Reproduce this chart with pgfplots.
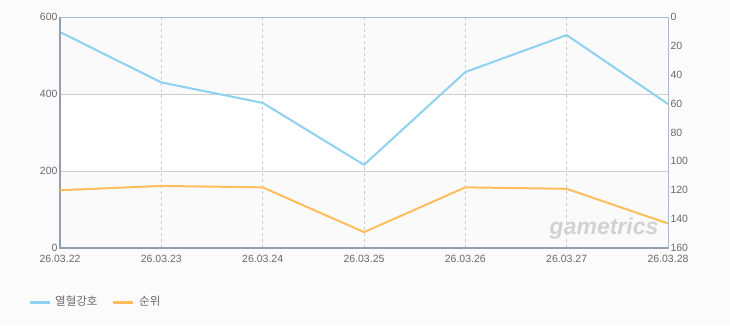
\documentclass[border=0pt]{standalone}
\usepackage{pgfplots}
\pgfplotsset{compat=1.18}
\usepackage{fontspec}
\setmainfont{Liberation Sans}
\newfontfamily\kr{Noto Sans CJK KR}
\definecolor{bg}{RGB}{251,251,251}
\definecolor{band}{RGB}{250,250,250}
\definecolor{frame}{RGB}{170,186,206}
\definecolor{gridc}{RGB}{205,205,205}
\definecolor{tickc}{RGB}{105,105,105}
\definecolor{sblue}{RGB}{142,209,240}
\definecolor{sorange}{RGB}{255,190,92}
\begin{document}
\begin{tikzpicture}
\fill[bg] (0pt,0pt) rectangle (730pt,325pt);
\begin{axis}[
  at={(60pt,77pt)}, anchor=south west,
  scale only axis, width=608pt, height=231pt,
  xmin=0, xmax=6, ymin=0, ymax=600,
  hide axis,
]
\fill[white] (rel axis cs:0,0) rectangle (rel axis cs:1,1);
\addplot[draw=none, fill=band, forget plot] coordinates {(0,400) (6,400) (6,600) (0,600)} -- cycle;
\addplot[draw=none, fill=band, forget plot] coordinates {(0,0) (6,0) (6,200) (0,200)} -- cycle;
\end{axis}
\begin{axis}[
  at={(60pt,77pt)}, anchor=south west,
  scale only axis, width=608pt, height=231pt,
  xmin=0, xmax=6, ymin=0, ymax=600,
  xtick={0,...,6},
  xticklabels={26.03.22,26.03.23,26.03.24,26.03.25,26.03.26,26.03.27,26.03.28},
  ytick={0,200,400,600},
  major tick length=0pt,
  tick style={draw=none},
  ticklabel style={font=\fontsize{10.5}{12}\selectfont, text=tickc},
  /pgf/number format/assume math mode=true,
  yticklabel style={xshift=1pt},
  xticklabel style={yshift=-3.5pt},
  grid=major,
  x grid style={dashed, gridc, line width=0.7pt},
  y grid style={gridc, line width=0.9pt},
  axis line style={draw=frame, line width=1pt},
  clip=false,
]
\addplot[sblue, line width=2pt, line join=round] coordinates {
(0,561) (1,430) (2,377) (3,216) (4,457) (5,553) (6,374)};
\draw[frame!80!black!90, line width=2pt] (rel axis cs:0,1) -- (rel axis cs:0,0) -- (rel axis cs:1,0);
\node[text=gray!35, font=\fontsize{23}{25}\selectfont\bfseries\itshape, anchor=east] at (rel axis cs:0.99,0.085) {gametrics};
\end{axis}
\begin{axis}[
  at={(60pt,77pt)}, anchor=south west,
  scale only axis, width=608pt, height=231pt,
  xmin=0, xmax=6, ymin=0, ymax=160, y dir=reverse,
  axis y line*=right, axis x line=none,
  ytick={0,20,...,160},
  major tick length=0pt,
  tick style={draw=none},
  ticklabel style={font=\fontsize{10.5}{12}\selectfont, text=tickc},
  /pgf/number format/assume math mode=true,
  yticklabel style={xshift=-1pt},
  axis line style={draw=frame, line width=1pt},
]
\addplot[sorange, line width=2pt, line join=round] coordinates {
(0,120) (1,117) (2,118) (3,149) (4,118) (5,119) (6,143)};
\end{axis}
\draw[sblue, line width=3pt] (30pt,23pt) -- (50pt,23pt);
\node[anchor=west, text=tickc, font=\kr\fontsize{11.5}{13}\selectfont, inner sep=0pt] at (55pt,24pt) {열혈강호};
\draw[sorange, line width=3pt] (113pt,23pt) -- (133pt,23pt);
\node[anchor=west, text=tickc, font=\kr\fontsize{11.5}{13}\selectfont, inner sep=0pt] at (139pt,24pt) {순위};
\pgfresetboundingbox
\useasboundingbox (0pt,0pt) rectangle (730pt,325pt);
\end{tikzpicture}
\end{document}
